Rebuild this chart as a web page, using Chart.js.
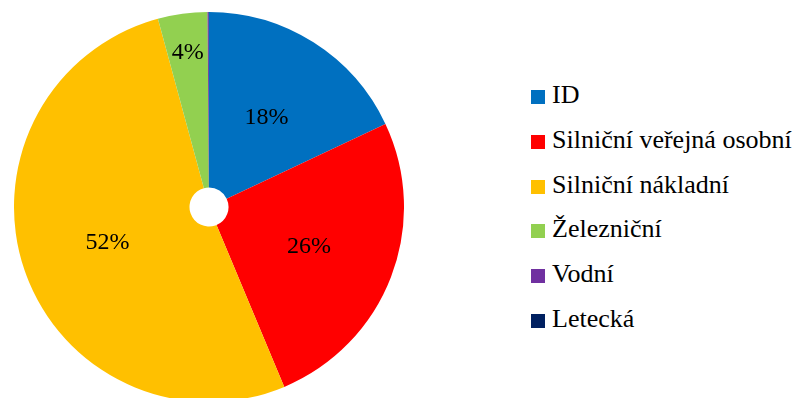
<!DOCTYPE html>
<html lang="cs">
<head>
<meta charset="utf-8">
<title>Podíl druhů dopravy</title>
<script src="https://cdn.jsdelivr.net/npm/chart.js@4/dist/chart.umd.min.js"></script>
<style>
  html, body { margin: 0; padding: 0; background: #fff; overflow: hidden; }
  #page { position: relative; width: 800px; height: 410px; }
  #pieBox { position: absolute; left: 14px; top: 12px; width: 390px; height: 390px; }
  #legend { position: absolute; left: 531px; top: 73px; margin: 0; padding: 0; list-style: none;
            font-family: 'Liberation Serif', Tinos, 'Times New Roman', 'DejaVu Serif', serif;
            font-size: 26px; color: #000; }
  #legend li { height: 44.8px; line-height: 44.8px; white-space: nowrap; }
  #legend .sw { display: inline-block; width: 14px; height: 14px; margin-right: 7px; vertical-align: -1px; }
</style>
</head>
<body>
<div id="page">
  <div id="pieBox"><canvas id="pie"></canvas></div>
  <ul id="legend"></ul>
</div>
<script>
// categories and shares (%)
const categories = ['ID', 'Silniční veřejná osobní', 'Silniční nákladní', 'Železniční', 'Vodní', 'Letecká'];
const shares     = [18.0, 25.7, 52.1, 4.1, 0.1, 0.02];
const colors     = ['#0070C0', '#FF0000', '#FFC000', '#92D050', '#7030A0', '#002060'];

const serifFont = "'Liberation Serif', Tinos, 'Times New Roman', 'DejaVu Serif', serif";
const total = shares.reduce((a, b) => a + b, 0);
const pctText = v => Math.round(v / total * 100) + '%';

// legend
const legendEl = document.getElementById('legend');
categories.forEach((name, i) => {
  const li = document.createElement('li');
  const sw = document.createElement('span');
  sw.className = 'sw';
  sw.style.background = colors[i];
  li.appendChild(sw);
  li.appendChild(document.createTextNode(name));
  legendEl.appendChild(li);
});

// percent labels inside the slices, small ones pushed further out
const sliceLabels = {
  id: 'sliceLabels',
  afterDatasetsDraw(chart) {
    const ctx = chart.ctx;
    const meta = chart.getDatasetMeta(0);
    ctx.save();
    ctx.font = '24px ' + serifFont;
    ctx.fillStyle = '#000';
    ctx.textAlign = 'center';
    ctx.textBaseline = 'middle';
    meta.data.forEach((arc, i) => {
      const v = shares[i];
      if (v / total < 0.01) return;
      const p = arc.getProps(['startAngle', 'endAngle', 'innerRadius', 'outerRadius', 'x', 'y'], true);
      const mid = (p.startAngle + p.endAngle) / 2;
      const f = v / total < 0.06 ? 0.78 : 0.5;
      const r = p.innerRadius + (p.outerRadius - p.innerRadius) * f;
      ctx.fillText(pctText(v), p.x + Math.cos(mid) * r, p.y + Math.sin(mid) * r + 1);
    });
    ctx.restore();
  }
};

document.fonts.load('24px ' + serifFont).finally(() => {
  new Chart(document.getElementById('pie'), {
    type: 'doughnut',
    data: {
      labels: categories,
      datasets: [{
        data: shares,
        backgroundColor: colors,
        borderWidth: 0
      }]
    },
    options: {
      responsive: true,
      maintainAspectRatio: false,
      animation: false,
      cutout: '10%',
      layout: { padding: 0 },
      plugins: {
        legend: { display: false },
        tooltip: { enabled: false }
      }
    },
    plugins: [sliceLabels]
  });
});
</script>
</body>
</html>
